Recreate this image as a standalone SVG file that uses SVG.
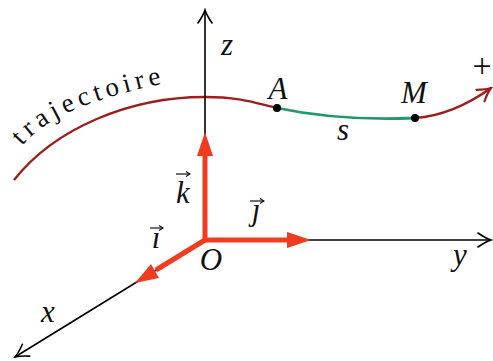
<svg xmlns="http://www.w3.org/2000/svg" width="493" height="361" viewBox="0 0 493 361">
<style>
.ax{fill:none;stroke:#000;stroke-width:1.6}
.vec{fill:none;stroke:#ef3b1e;stroke-width:5}
.head{fill:#ef3b1e}
.lbl{font-family:'Liberation Serif','DejaVu Serif',serif;font-style:italic;font-size:31px;fill:#111;text-anchor:middle}
.rm{font-family:'Liberation Serif','DejaVu Serif',serif;fill:#111}
.acc{fill:none;stroke:#111;stroke-width:1.2}
.traj{fill:none;stroke:#9e1d1a;stroke-width:2.4}
.arc{fill:none;stroke:#1f9a6c;stroke-width:2.8}
</style>
<defs>
<marker id="open" viewBox="-14 -9 16 18" markerWidth="16" markerHeight="18" refX="0" refY="0" orient="auto" markerUnits="userSpaceOnUse">
<path d="M-13,-7 Q-5,-1.5 0,0 Q-5,1.5 -13,7" fill="none" stroke="#000" stroke-width="1.6" stroke-linecap="round"/>
</marker>
<marker id="openR" viewBox="-14 -9 16 18" markerWidth="16" markerHeight="18" refX="0" refY="0" orient="auto" markerUnits="userSpaceOnUse">
<path d="M-13,-7 Q-5,-1.5 0,0 Q-5,1.5 -13,7" fill="none" stroke="#9e1d1a" stroke-width="2.2" stroke-linecap="round"/>
</marker>
<marker id="acc" viewBox="-5 -3 6 6" markerWidth="6" markerHeight="6" refX="0" refY="0" orient="auto" markerUnits="userSpaceOnUse">
<path d="M-4,-2.5 L0,0 L-4,2.5" fill="none" stroke="#111" stroke-width="1.1"/>
</marker>
<path id="tp" d="M22,146 C44,120 82,100 175,81 L240,70"/>
</defs>

<g id="trajectory">
<path class="traj" d="M14,180 C55,128 130,97 205,97 C240,97 255,103 277,108"/>
<path class="arc" d="M277,108 C320,117 370,120 415,118"/>
<path class="traj" d="M415,118 C445,116 470,103 491,88" marker-end="url(#openR)"/>
<text class="rm" font-size="27" letter-spacing="4.6"><textPath href="#tp">trajectoire</textPath></text>
</g>

<g id="connectors">
<line class="ax" x1="205" y1="240" x2="205" y2="10" marker-end="url(#open)"/>
<line class="ax" x1="205" y1="240" x2="491" y2="240" marker-end="url(#open)"/>
<line class="ax" x1="205" y1="240" x2="15" y2="357" marker-end="url(#open)"/>
</g>

<g id="vec-k">
<line class="vec" x1="205" y1="240" x2="205" y2="152"/>
<polygon class="head" points="205,132 197,156 213,156"/>
</g>
<g id="vec-j">
<line class="vec" x1="205" y1="240" x2="290" y2="240"/>
<polygon class="head" points="311,240 287,232 287,248"/>
</g>
<g id="vec-i">
<line class="vec" x1="205" y1="240" x2="156" y2="270"/>
<polygon class="head" points="135,283 159,278 151,264"/>
</g>

<g id="point-A">
<circle cx="277" cy="108" r="4" fill="#000"/>
<text class="lbl" x="278" y="99">A</text>
</g>
<g id="point-M">
<circle cx="415" cy="118" r="4" fill="#000"/>
<text class="lbl" x="414" y="103">M</text>
</g>

<g id="labels">
<text class="lbl" x="227" y="55">z</text>
<text class="lbl" x="460" y="265">y</text>
<text class="lbl" x="48" y="322">x</text>
<text class="lbl" x="211" y="270">O</text>
<text class="lbl" x="343" y="140">s</text>
<text class="rm" x="482" y="77" font-size="34" text-anchor="middle">+</text>
<text class="lbl" x="183" y="203">k</text>
<path class="acc" d="M176,174 H190" marker-end="url(#acc)"/>
<text class="lbl" x="256" y="220">ȷ</text>
<path class="acc" d="M250,201 H264" marker-end="url(#acc)"/>
<text class="lbl" x="156" y="248">ı</text>
<path class="acc" d="M150,228 H163" marker-end="url(#acc)"/>
</g>
</svg>
